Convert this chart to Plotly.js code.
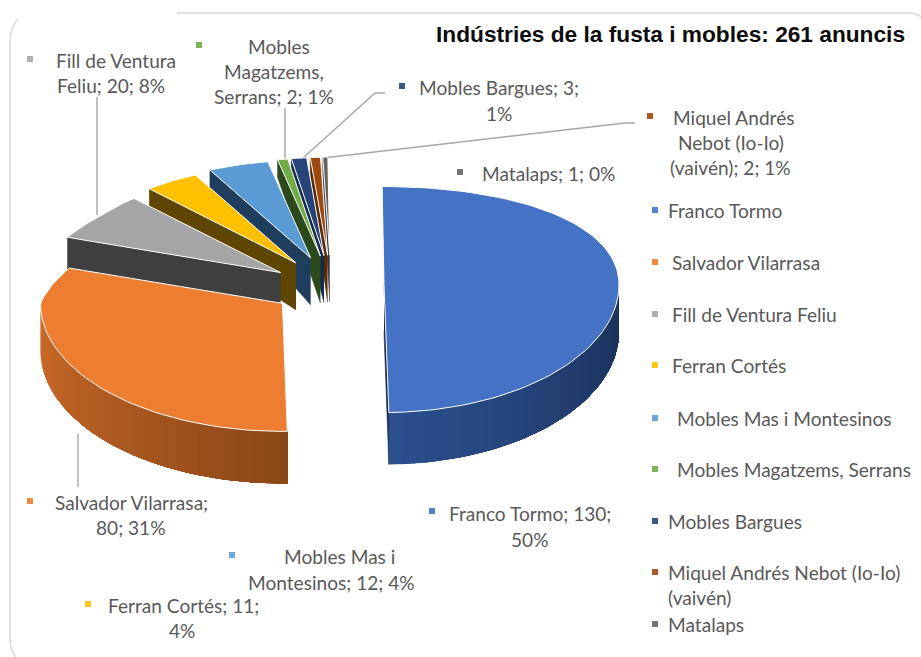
<!DOCTYPE html>
<html><head><meta charset="utf-8">
<script src="https://cdn.plot.ly/plotly-3.0.1.min.js"></script>
<style>html,body{margin:0;padding:0;background:#fff}#c{width:921px;height:657px}</style>
</head><body><div id="c"></div>
<script>
const names = ["Franco Tormo","Salvador Vilarrasa","Fill de Ventura Feliu","Ferran Cortés","Mobles Mas i Montesinos","Mobles Magatzems, Serrans","Mobles Bargues","Miquel Andrés Nebot (Io-Io) (vaivén)","Matalaps"];
const values = [130,80,20,11,12,2,3,2,1];
const colors = ["#4472C4","#ED7D31","#A5A5A5","#FFC000","#5B9BD5","#70AD47","#264478","#9E480E","#636363"];
const sideColors = ["#1a2f55","#8a4717","#3f3f3f","#5f4600","#1f3d5c","#2a4a1c","#16294f","#5a2a08","#3a3a3a"];
const titleText = "Indústries de la fusta i mobles: 261 anuncis";
const TEXT = "#595959", FONT = "Lato, 'Open Sans', sans-serif";

// projection of the exploded, tilted pie onto the axes
const P = {cx:331, cy:288, exRight:53, exLeft:60, eyUp:33, eyDown:22, skew:-3, rxRight:235, rxLeft:242, rxLeftFar:214, ryUpNear:112, ryUpFall:14, ryDown:128, rot:-0.5, d0:47, dUp:30, dDown:5};
const total = values.reduce((a,b)=>a+b,0);
let cum = P.rot;
const slices = values.map((v,i)=>{const a0=cum, a1=cum+v/total*360; cum=a1; return {i,a0,a1,mid:(a0+a1)/2};});
const rad = d=>d*Math.PI/180;
function pt(s,a,r){ // a in degrees clockwise from top, r in 0..1
  const u=Math.sin(rad(a))*r, v=Math.cos(rad(a))*r;
  const sm=Math.sin(rad(s.mid)), cm=Math.cos(rad(s.mid));
  const ax=P.cx+(sm>=0?P.exRight:P.exLeft)*sm, ay=P.cy-(cm>=0?P.eyUp:P.eyDown)*cm+P.skew*sm;
  const rx=u>=0?P.rxRight:(v>0?Math.max(P.rxLeftFar,P.rxLeft-50*v):P.rxLeft);
  const ry=v>=0?P.ryUpNear-P.ryUpFall*v:P.ryDown;
  return {x:ax+rx*u, y:ay-ry*v, d:P.d0-(v>=0?P.dUp:P.dDown)*v};
}
const traces=[];
function poly(pts,fill,lineColor,lineWidth){
  traces.push({type:"scatter",mode:"lines",x:pts.map(p=>p[0]),y:pts.map(p=>p[1]),fill:"toself",fillcolor:fill,
    line:{color:lineColor||fill,width:lineWidth===undefined?0.6:lineWidth},hoverinfo:"skip",showlegend:false});
}
function mix(c1,c2,t){const h=c=>[1,3,5].map(k=>parseInt(c.substr(k,2),16));const a=h(c1),b=h(c2);
  return "rgb("+a.map((x,k)=>Math.round(x+(b[k]-x)*t)).join(",")+")";}
function arcPts(s,a0,a1){const n=Math.max(2,Math.ceil(Math.abs(a1-a0)/2));const o=[];for(let k=0;k<=n;k++)o.push(pt(s,a0+(a1-a0)*k/n,1));return o;}
function outerWall(s,a0,a1,cA,cB,bands){
  // each band runs to the end of the wall and is overpainted by the next, so no seams show
  for(let b=0;b<bands;b++){
    const p=a0+(a1-a0)*b/bands;
    const arc=arcPts(s,p,a1);
    poly(arc.map(o=>[o.x,o.y]).concat(arc.slice().reverse().map(o=>[o.x,o.y+o.d])),mix(cA,cB,(b+0.5)/bands),null,0);
  }
}
function cutFace(s,a,color){
  const c=pt(s,a,0),r=pt(s,a,1);
  poly([[c.x,c.y],[r.x,r.y],[r.x,r.y+r.d],[c.x,c.y+c.d]],color);
}
function topFace(s){
  const c=pt(s,s.a0,0),arc=arcPts(s,s.a0,s.a1);
  poly([[c.x,c.y]].concat(arc.map(o=>[o.x,o.y])).concat([[c.x,c.y]]),colors[s.i],"#ffffff",1);
}
// leader lines
const leaders=[[[97,97],[97,215]],[[285,108],[285,162]],[[385,93],[375,93],[303,158]],[[635,123],[625,123],[323,158]],[[78,434],[78,487]]];
leaders.forEach(l=>traces.push({type:"scatter",mode:"lines",x:l.map(p=>p[0]),y:l.map(p=>p[1]),line:{color:"#a6a6a6",width:1.4},hoverinfo:"skip",showlegend:false}));
// pie, back to front
[8,7,6,5,4,3,2].forEach(i=>{const s=slices[i];cutFace(s,s.a0,sideColors[i]);topFace(s);});
{const s=slices[1];outerWall(s,270,s.a0,"#cf6c2a","#8a4717",30);topFace(s);}
{const s=slices[0];cutFace(s,s.a1,"#14264a");outerWall(s,s.a1,90,"#2b5090","#1a2f55",30);topFace(s);}

// label text lines and their swatches
const labelLines=[
 ["Fill de Ventura",115.5,60],["Feliu; 20; 8%",110.5,85],
 ["Mobles",279,46],["Magatzems,",274,71],["Serrans; 2; 1%",274,96],
 ["Mobles Bargues; 3;",498.5,87],["1%",498.5,113],
 ["Miquel Andrés",733,117],["Nebot (Io-Io)",730.5,142],["(vaivén); 2; 1%",730.5,167],
 ["Matalaps; 1; 0%",548,173],
 ["Franco Tormo; 130;",529.5,513],["50%",529,539],
 ["Salvador Vilarrasa;",131.5,502],["80; 31%",130,527],
 ["Mobles Mas i",339.5,556],["Montesinos; 12; 4%",331.5,582],
 ["Ferran Cortés; 11;",183,605],["4%",182,630]];
const labelSwatch=[[2,30,59],[5,199,45],[6,402,86],[7,650,116],[8,460,172],[0,432,511],[1,30,501],[4,232,555],[3,88,604]];
const legendLines=[["Franco Tormo",668,210],["Salvador Vilarrasa",672,262],["Fill de Ventura Feliu",672,314],["Ferran Cortés",672,365],["Mobles Mas i Montesinos",677,418],["Mobles Magatzems, Serrans",677,469],["Mobles Bargues",668,521],["Miquel Andrés Nebot (Io-Io)",668,572],["(vaivén)",668,597],["Matalaps",668,624]];
const legendSwatch=[[0,655,210],[1,655,262],[2,655,314],[3,655,365],[4,655,418],[5,655,469],[6,655,521],[7,655,572],[8,655,624]];
const sw=labelSwatch.concat(legendSwatch);
traces.push({type:"scatter",mode:"markers",x:sw.map(s=>s[1]),y:sw.map(s=>s[2]),marker:{symbol:"square",size:6,color:sw.map(s=>colors[s[0]]),opacity:0.9},hoverinfo:"skip",showlegend:false});

const ann=[];
labelLines.forEach(l=>ann.push({x:l[1],y:l[2],xref:"x",yref:"y",text:l[0],showarrow:false,xanchor:"center",yanchor:"middle",font:{family:FONT,size:19.1,color:TEXT}}));
legendLines.forEach(l=>ann.push({x:l[1],y:l[2],xref:"x",yref:"y",text:l[0],showarrow:false,xanchor:"left",yanchor:"middle",xshift:-2,font:{family:FONT,size:19.1,color:TEXT}}));
ann.push({x:670,y:34,xref:"x",yref:"y",text:"<b>"+titleText+"</b>",showarrow:false,xanchor:"center",yanchor:"middle",font:{family:"'Liberation Sans',Arial,sans-serif",size:22.7,color:"#0d0d0d"}});

const layout={width:921,height:657,margin:{l:0,r:0,t:0,b:0},paper_bgcolor:"#fff",plot_bgcolor:"#fff",showlegend:false,
 xaxis:{range:[0,921],visible:false,fixedrange:true},yaxis:{range:[657,0],visible:false,fixedrange:true},
 annotations:ann,
 shapes:[{type:"path",xref:"x",yref:"y",layer:"below",path:"M 16 657 Q 10 650 10 638 L 10 40 Q 11 26 18 19",line:{color:"#d9d9d9",width:1.5}},
         {type:"path",xref:"x",yref:"y",layer:"below",path:"M 177 13 L 908 13 Q 917 13 921 17",line:{color:"#d9d9d9",width:1.5}}]};
Plotly.newPlot("c",traces,layout,{displayModeBar:false,staticPlot:true});
</script></body></html>
